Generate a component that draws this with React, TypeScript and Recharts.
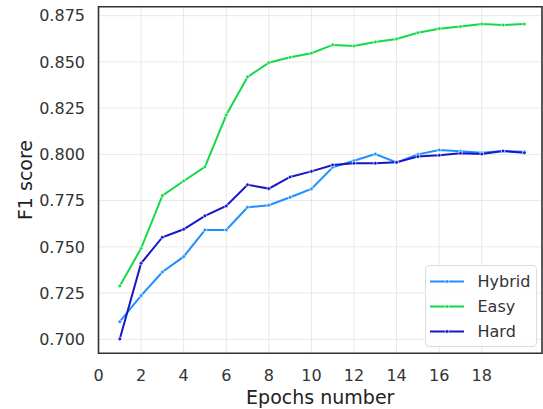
import React from 'react';
import { LineChart, Line, XAxis, YAxis, CartesianGrid, Legend, ReferenceArea } from 'recharts';

const epochs = [1, 2, 3, 4, 5, 6, 7, 8, 9, 10, 11, 12, 13, 14, 15, 16, 17, 18, 19, 20];
const hybrid = [0.7095, 0.7236, 0.7364, 0.7447, 0.7591, 0.7591, 0.7714, 0.7725, 0.7768, 0.7813, 0.7930, 0.7966, 0.8002, 0.7957, 0.8000, 0.8024, 0.8017, 0.8009, 0.8018, 0.8014];
const easy = [0.7288, 0.7492, 0.7777, 0.7856, 0.7933, 0.8213, 0.8419, 0.8496, 0.8525, 0.8547, 0.8592, 0.8586, 0.8608, 0.8624, 0.8658, 0.8680, 0.8691, 0.8705, 0.8700, 0.8705];
const hard = [0.7002, 0.7411, 0.7552, 0.7595, 0.7668, 0.7721, 0.7836, 0.7815, 0.7878, 0.7908, 0.7943, 0.7952, 0.7952, 0.7957, 0.7988, 0.7995, 0.8006, 0.8002, 0.8018, 0.8009];

const xTicks = [0, 2, 4, 6, 8, 10, 12, 14, 16, 18];
const yTicks = [0.7, 0.725, 0.75, 0.775, 0.8, 0.825, 0.85, 0.875];
const xDomain = [0, 20.83];
const yDomain = [0.69243, 0.87987];

const COLORS = { Hybrid: '#1e90ff', Easy: '#14d94a', Hard: '#1616c8' };
const FONT = '"DejaVu Sans", sans-serif';

const series = ['Hybrid', 'Easy', 'Hard'] as const;

const data = epochs.map((e, i) => ({ epoch: e, Hybrid: hybrid[i], Easy: easy[i], Hard: hard[i] }));

const renderLegend = (props: any) => {
  const payload = [...(props.payload || [])].sort(
    (a: any, b: any) => series.indexOf(a.value) - series.indexOf(b.value)
  );
  return (
    <div
      style={{
        width: 112,
        height: 82,
        boxSizing: 'border-box',
        border: '1px solid #dcdcdc',
        borderRadius: 4,
        background: 'rgba(255,255,255,0.85)',
        paddingTop: 2.5,
        fontFamily: FONT,
        fontSize: 16,
        color: '#333',
      }}
    >
      {payload.map((p: any) => (
        <div key={p.value} style={{ height: 25, display: 'flex', alignItems: 'center' }}>
          <svg width={38} height={25} style={{ marginLeft: 3, flex: 'none' }}>
            <line x1={1} y1={12.5} x2={35} y2={12.5} stroke={p.color} strokeWidth={2} />
            <circle cx={18} cy={12.5} r={1.8} fill={p.color} stroke="#fff" strokeWidth={0.6} />
          </svg>
          <span style={{ marginLeft: 10.5, lineHeight: '25px' }}>{p.value}</span>
        </div>
      ))}
    </div>
  );
};

const YLabel = (props: any) => {
  const vb = props.viewBox || {};
  const x = vb.x + 16.5;
  const y = vb.y + vb.height / 2;
  return (
    <text
      x={x}
      y={y}
      transform={`rotate(-90, ${x}, ${y})`}
      textAnchor="middle"
      dominantBaseline="central"
      fontSize={19}
      fill="#222"
      fontFamily={FONT}
    >
      F1 score
    </text>
  );
};

export default function App() {
  return (
    <div style={{ position: 'absolute', left: 0, top: 0, width: 543, height: 409, background: '#fff' }}>
      <LineChart
        width={543}
        height={409}
        data={data}
        margin={{ top: 6.7, right: 1, bottom: 5.7, left: 8.5 }}
        style={{ fontFamily: FONT }}
      >
        <CartesianGrid stroke="#e8e8e8" strokeWidth={1} />
        <ReferenceArea
          x1={xDomain[0]}
          x2={xDomain[1]}
          y1={yDomain[0]}
          y2={yDomain[1]}
          fill="none"
          stroke="#333"
          strokeWidth={1.6}
          ifOverflow="visible"
        />
        <XAxis
          dataKey="epoch"
          type="number"
          domain={xDomain}
          ticks={xTicks}
          interval={0}
          allowDataOverflow
          height={50}
          axisLine={false}
          tickLine={false}
          tickSize={0}
          tickMargin={16}
          tick={{ fontSize: 16, fill: '#333', fontFamily: FONT }}
          label={{ value: 'Epochs number', position: 'insideBottom', offset: -0.7, fontSize: 19, fill: '#222', fontFamily: FONT }}
        />
        <YAxis
          type="number"
          domain={yDomain}
          ticks={yTicks}
          interval={0}
          allowDataOverflow
          width={90}
          axisLine={false}
          tickLine={false}
          tickSize={0}
          tickMargin={13.5}
          tickFormatter={(v: number) => v.toFixed(3)}
          tick={{ fontSize: 16, fill: '#333', fontFamily: FONT }}
          label={<YLabel />}
        />
        <Legend
          layout="vertical"
          align="center"
          verticalAlign="middle"
          content={renderLegend}
          wrapperStyle={{ left: 425, top: 265, width: 112, height: 82 }}
        />
        {series.map((s) => (
          <Line
            key={s}
            type="linear"
            dataKey={s}
            name={s}
            stroke={COLORS[s]}
            strokeWidth={2}
            dot={{ r: 1.8, fill: COLORS[s], stroke: '#fff', strokeWidth: 0.6 }}
            activeDot={false}
            isAnimationActive={false}
          />
        ))}
      </LineChart>
    </div>
  );
}
